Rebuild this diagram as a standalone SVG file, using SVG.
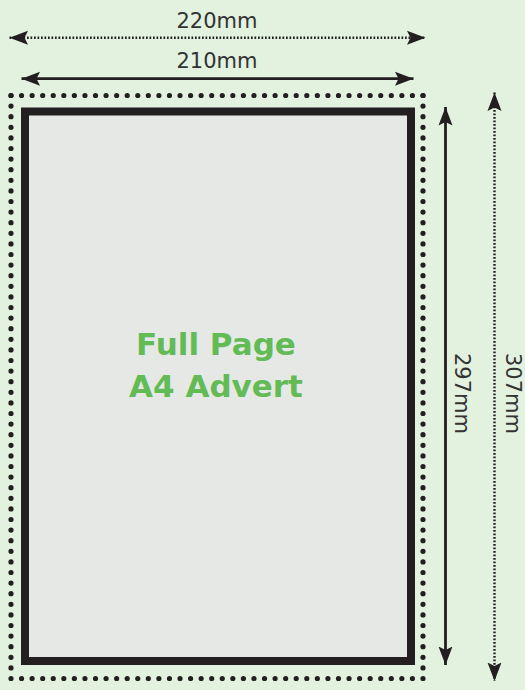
<svg xmlns="http://www.w3.org/2000/svg" width="525" height="690" viewBox="0 0 525 690">
<style>
.dim{font-family:"DejaVu Sans","Liberation Sans",sans-serif;font-size:21px;fill:#333333;text-anchor:middle}
.title{font-family:"DejaVu Sans","Liberation Sans",sans-serif;font-size:31px;font-weight:bold;fill:#62bb55;text-anchor:middle}
.solid{stroke:#231f20;stroke-width:2.8;fill:none}
.dotted{stroke:#231f20;stroke-width:2.4;stroke-dasharray:1.7 1.8;fill:none}
.border{stroke:#231f20;stroke-width:5.2;stroke-linecap:round;fill:none}
</style>
<defs>
<marker id="ah" markerUnits="userSpaceOnUse" markerWidth="20" markerHeight="16" refX="18.5" refY="7" orient="auto-start-reverse" viewBox="0 -1 20 16">
<path d="M0,0 L18.5,7 L0,14 L3.5,7 z" fill="#231f20"/>
</marker>
</defs>
<rect width="525" height="690" fill="#e2f2df"/>
<g id="bleed-border">
<line class="border" x1="11" y1="95.5" x2="423" y2="95.5" stroke-dasharray="0 10.564"/>
<line class="border" x1="11" y1="678.5" x2="423" y2="678.5" stroke-dasharray="0 10.564"/>
<line class="border" x1="11" y1="95.5" x2="11" y2="678.5" stroke-dasharray="0 10.6"/>
<line class="border" x1="423" y1="95.5" x2="423" y2="678.5" stroke-dasharray="0 10.6"/>
</g>
<g id="page">
<rect x="25" y="111.5" width="386" height="549.5" fill="#e6e8e6" stroke="#231f20" stroke-width="8"/>
<text class="title" x="216" y="355">Full Page</text>
<text class="title" x="216" y="397">A4 Advert</text>
</g>
<g id="connectors">
<line class="dotted" x1="9.5" y1="37.7" x2="425.5" y2="37.7" marker-start="url(#ah)" marker-end="url(#ah)"/>
<line class="solid" x1="21.5" y1="78.7" x2="413.5" y2="78.7" marker-start="url(#ah)" marker-end="url(#ah)"/>
<line class="solid" x1="445.5" y1="107" x2="445.5" y2="665" marker-start="url(#ah)" marker-end="url(#ah)"/>
<line class="dotted" x1="494.5" y1="92.5" x2="494.5" y2="681" marker-start="url(#ah)" marker-end="url(#ah)"/>
</g>
<g id="labels">
<text class="dim" x="217" y="28">220mm</text>
<text class="dim" x="217" y="68">210mm</text>
<text class="dim" transform="translate(455,393.5) rotate(90)">297mm</text>
<text class="dim" transform="translate(506,393.5) rotate(90)">307mm</text>
</g>
</svg>
